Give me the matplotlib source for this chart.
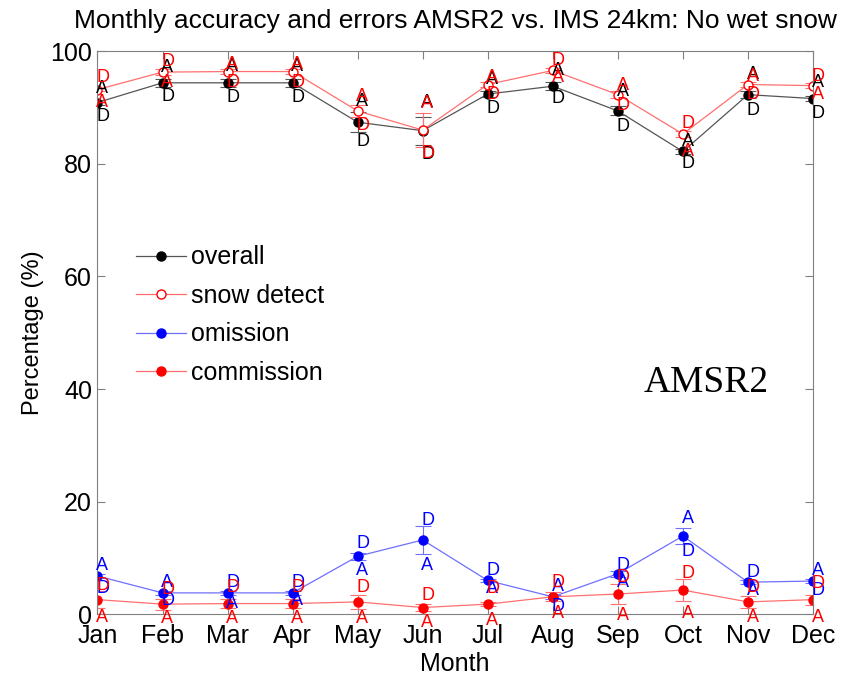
import matplotlib
matplotlib.use("Agg")
import matplotlib.pyplot as plt

months = ["Jan", "Feb", "Mar", "Apr", "May", "Jun", "Jul", "Aug", "Sep", "Oct", "Nov", "Dec"]
month_num = list(range(1, 13))

# overall accuracy
overall = [90.9, 94.4, 94.4, 94.4, 87.4, 85.9, 92.4, 93.8, 89.4, 82.2, 92.3, 91.6]
overall_err = [0.5, 0.7, 0.7, 0.7, 1.8, 2.5, 0.5, 0.7, 0.8, 0.5, 0.6, 0.5]
overall_a = [93.4, 97.2, 97.3, 97.3, 91.0, 90.9, 95.0, 96.5, 92.8, 84.0, 95.8, 94.4]
overall_d = [88.4, 91.9, 91.8, 91.8, 84.0, 81.7, 89.9, 91.6, 86.6, 80.1, 89.5, 89.0]

# snow detect
snow = [93.2, 96.3, 96.4, 96.4, 89.4, 86.0, 94.1, 96.6, 92.3, 85.3, 94.1, 93.9]
snow_err = [0.3, 0.5, 0.4, 0.4, 1.0, 3.0, 0.5, 0.4, 0.6, 0.6, 0.5, 0.4]
snow_a = [90.9, 94.4, 97.6, 97.6, 91.9, 90.8, 95.3, 95.3, 94.0, 82.2, 95.5, 92.3]
snow_d = [95.4, 98.2, 94.4, 94.4, 86.9, 81.9, 92.4, 98.4, 90.4, 87.2, 92.3, 95.5]

# omission
omission = [6.8, 3.8, 3.8, 3.8, 10.3, 13.2, 6.0, 3.1, 7.2, 13.9, 5.7, 5.9]
omission_err = [0.3, 0.3, 0.3, 0.3, 0.6, 2.45, 0.3, 0.3, 0.5, 1.4, 0.3, 0.3]
omission_a = [8.7, 5.7, 1.9, 2.5, 7.8, 8.6, 4.6, 4.9, 5.7, 17.0, 4.3, 7.8]
omission_d = [4.6, 2.5, 5.7, 5.7, 12.5, 16.6, 7.7, 1.3, 8.7, 11.1, 7.5, 4.3]

# commission
commission = [2.6, 1.8, 1.9, 1.9, 2.2, 1.2, 1.8, 3.1, 3.6, 4.3, 2.2, 2.6]
commission_err = [1.5, 1.0, 0.8, 0.8, 1.2, 0.6, 0.3, 0.8, 1.7, 2.0, 1.1, 0.9]
commission_a = [-0.5, -0.8, -0.8, -0.8, -0.8, -1.4, -1.1, 0.1, -0.2, 0.1, -0.6, -0.5]
commission_d = [5.2, 4.4, 4.7, 4.7, 4.7, 3.4, 4.6, 5.7, 6.5, 7.2, 4.7, 5.5]

plt.rcParams['font.family'] = ['Liberation Sans', 'DejaVu Sans']

fig = plt.figure(figsize=(8.52, 6.82), dpi=100)
ax = fig.add_axes([0.1144, 0.0993, 0.8398, 0.8255])


def draw_series(mean, err, a_vals, d_vals, color, linecolor, label, face):
    ax.errorbar(month_num, mean, yerr=err, fmt="none", ecolor=linecolor,
                elinewidth=0.8, capsize=5.5, capthick=0.8)
    line, = ax.plot(month_num, mean, color=linecolor, lw=0.9, marker="o", markersize=6.5,
                    markerfacecolor=face, markeredgecolor=color, label=label)
    for m, a, d in zip(month_num, a_vals, d_vals):
        ax.text(m - 0.02, a, "A", color=color, fontsize=13, ha="left", va="center")
        ax.text(m - 0.02, d, "D", color=color, fontsize=13, ha="left", va="center")
    return line


h1 = draw_series(overall, overall_err, overall_a, overall_d, "black", "#555555", "overall", "black")
h2 = draw_series(snow, snow_err, snow_a, snow_d, "red", "#ff6f6f", "snow detect", "white")
h3 = draw_series(omission, omission_err, omission_a, omission_d, "blue", "#6f6fff", "omission", "blue")
h4 = draw_series(commission, commission_err, commission_a, commission_d, "red", "#ff6f6f", "commission", "red")

ax.set_xlim(1, 12)
ax.set_ylim(0, 100)
ax.set_xticks(month_num)
ax.set_xticklabels(months)
ax.set_yticks([0, 20, 40, 60, 80, 100])
ax.tick_params(direction="in", length=6, labelsize=18, top=True, right=True, color="#808080")
ax.tick_params(axis="x", pad=7)
ax.tick_params(axis="y", pad=4)
for s in ax.spines.values():
    s.set_color("#808080")
ax.set_xlabel("Month", fontsize=18, labelpad=3)
ax.set_ylabel("Percentage (%)", fontsize=17, labelpad=4)
ax.set_title("Monthly accuracy and errors AMSR2 vs. IMS 24km: No wet snow", fontsize=19, pad=17)

ax.text(9.39, 41.1, "AMSR2", fontsize=27, family="Liberation Serif", va="center", ha="left")

ax.legend([h1, h2, h3, h4], ["overall", "snow detect", "omission", "commission"],
          loc="upper left", bbox_to_anchor=(0.022, 0.695), frameon=False,
          fontsize=18, handlelength=2.0, handletextpad=0.2, labelspacing=0.58)

fig.savefig("out.png", dpi=100)
